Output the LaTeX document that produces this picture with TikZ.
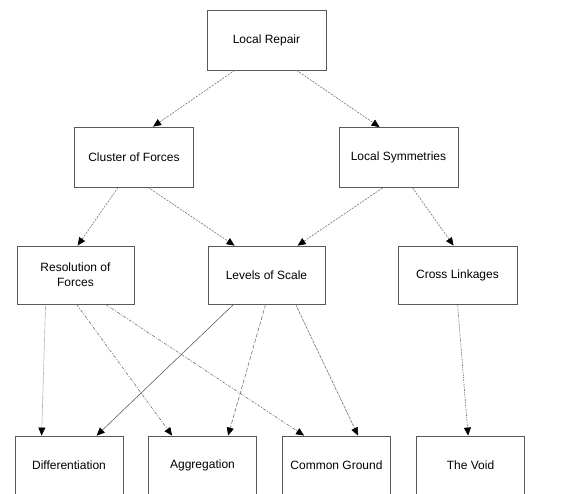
\documentclass[tikz,border=0pt]{standalone}
\usepackage{fontspec}
\setmainfont{Liberation Sans}
\usepackage{tikz}
\usetikzlibrary{arrows.meta}

\tikzset{
  box/.style={draw=black!65, line width=0.8pt, fill=white, minimum width=119pt,
    minimum height=60pt, align=center, inner sep=2pt, font=\fontsize{12}{15}\selectfont},
  lowbox/.style={box, minimum width=108pt, minimum height=58pt},
  link/.style={draw=black!55, line width=0.6pt, dash pattern=on 2pt off 1.2pt,
    -{Triangle[length=8pt,width=7pt,black]}},
}

\begin{document}
\begin{tikzpicture}[x=1pt,y=-1pt]
\clip (0,0) rectangle (574,494);
\fill[white] (0,0) rectangle (574,494);

% boxes
\node[box] (repair) at (266.5,40) {Local Repair};
\node[box] (cluster) at (134,157) {Cluster of Forces};
\node[box] (symm) at (398.5,157.5) {Local Symmetries};
\node[box, minimum width=117pt, minimum height=58pt] (resol) at (75.5,275) {Resolution of\\Forces};
\node[box, minimum width=117pt, minimum height=58pt] (levels) at (266.5,275) {Levels of Scale};
\node[box, minimum height=58pt] (cross) at (457.5,275) {Cross Linkages};

\node[lowbox] (diff) at (69,465) {Differentiation};
\node[lowbox] (aggr) at (202.5,465) {Aggregation};
\node[lowbox] (common) at (336.5,465) {Common Ground};
\node[lowbox] (void) at (470.5,465) {The Void};

% links
\draw[link] ([xshift=28pt]repair.south west) -- ([xshift=79pt]cluster.north west);
\draw[link] ([xshift=90pt]repair.south west) -- ([xshift=41pt]symm.north west);
\draw[link] ([xshift=44pt]cluster.south west) -- ([xshift=61pt]resol.north west);
\draw[link] ([xshift=74pt]cluster.south west) -- ([xshift=27pt]levels.north west);
\draw[link] ([xshift=44pt]symm.south west) -- ([xshift=90pt]levels.north west);
\draw[link] ([xshift=74pt]symm.south west) -- ([xshift=56pt]cross.north west);

\draw[link, dash pattern=on 1pt off 1pt] ([xshift=29pt]resol.south west) -- ([xshift=27pt]diff.north west);
\draw[link, dash pattern=on 3pt off 1.5pt on 1pt off 1.5pt] ([xshift=60pt]resol.south west) -- ([xshift=24pt]aggr.north west);
\draw[link, dash pattern=on 3pt off 1.5pt on 1pt off 1.5pt] ([xshift=89pt]resol.south west) -- ([xshift=22pt]common.north west);

\draw[link, solid, draw=black!70, line width=0.5pt] ([xshift=26pt]levels.south west) -- ([xshift=82pt]diff.north west);
\draw[link, dash pattern=on 4pt off 2pt] ([xshift=58pt]levels.south west) -- ([xshift=80pt]aggr.north west);
\draw[link, dash pattern=on 3pt off 1pt] ([xshift=88pt]levels.south west) -- ([xshift=76pt]common.north west);

\draw[link, dash pattern=on 2pt off 1pt on 1pt off 1pt] ([xshift=60pt]cross.south west) -- ([xshift=52pt]void.north west);
\end{tikzpicture}
\end{document}
